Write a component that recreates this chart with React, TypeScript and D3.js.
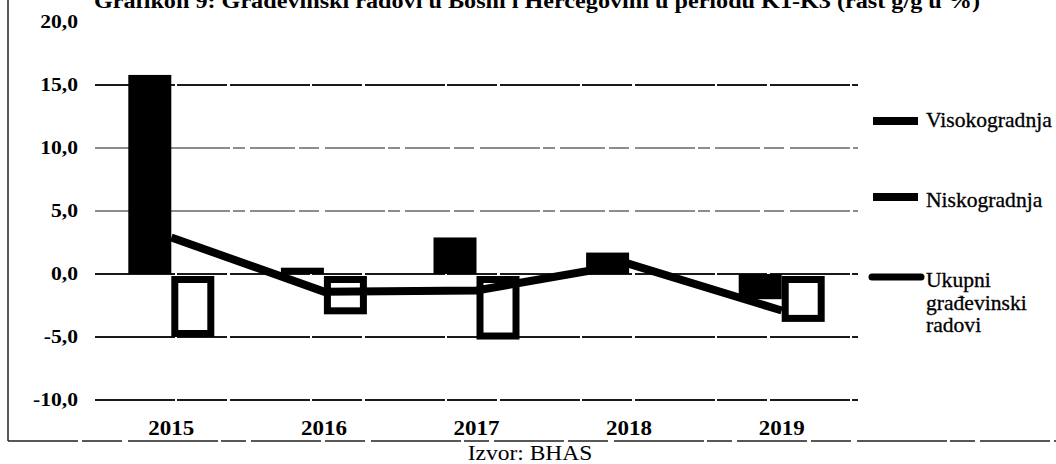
import React from 'react';
import * as d3 from 'd3';

const years = ['2015', '2016', '2017', '2018', '2019'];
const visokogradnja = [15.8, 0.5, 2.9, 1.7, -2.0];
const niskogradnja = [-5.0, -3.2, -5.2, 0.0, -3.8];
const ukupni = [2.9, -1.4, -1.3, 0.8, -2.9];
const yTicks = [20, 15, 10, 5, 0, -5, -10];
const seriesKeys = ['v', 'n'];
const legendViso = 'Visokogradnja';
const legendNisko = 'Niskogradnja';
const legendUkupni = ['Ukupni', 'građevinski', 'radovi'];
const title = 'Grafikon 9: Građevinski radovi u Bosni i Hercegovini u periodu K1-K3 (rast g/g u %)';
const source = 'Izvor: BHAS';

const FONT = '"Liberation Serif", "Times New Roman", serif';

function SText({ x, y, sx = 1.15, anchor = 'start', size = 18, weight = 'normal', heavy = 0, children }: any) {
  return (
    <g transform={`translate(${x},${y})`}>
      <text
        transform={`scale(${sx},1)`}
        textAnchor={anchor}
        fontFamily={FONT}
        fontSize={size}
        fontWeight={weight}
        fill="#000"
        stroke={heavy ? '#000' : 'none'}
        strokeWidth={heavy}
      >
        {children}
      </text>
    </g>
  );
}

export default function App() {
  const W = 1056;
  const H = 464;
  const x = d3.scaleBand<string>().domain(years).range([95, 858]).padding(0);
  const sub = d3
    .scaleBand<string>()
    .domain(seriesKeys)
    .range([0, x.bandwidth()])
    .paddingInner(0)
    .paddingOuter(0.7745);
  const y = d3.scaleLinear().domain([-10, 20]).range([400, 22]);
  const bw = sub.bandwidth();
  const sw = 7;

  const line = d3
    .line<number>()
    .x((_, i) => (x(years[i]) as number) + x.bandwidth() / 2)
    .y((d) => y(d));

  const fmt = (v: number) => d3.format('.1f')(v).replace('.', ',').replace('\u2212', '-');

  return (
    <svg
      width={W}
      height={H}
      style={{ position: 'absolute', left: 0, top: 0, background: '#fff' }}
    >
      <rect x={0} y={0} width={W} height={H} fill="#fff" />
      {/* title (cut at top) */}
      <text
        x={94}
        y={8}
        textLength={886}
        lengthAdjust="spacingAndGlyphs"
        fontFamily={FONT}
        fontSize={20}
        fontWeight="bold"
      >
        {title}
      </text>

      {/* frame */}
      <line x1={8} x2={8} y1={0} y2={441} stroke="#222" strokeWidth={1.5} />
      <line x1={8} x2={W} y1={441} y2={441} stroke="#222" strokeWidth={1.5} strokeDasharray="70 4 40 6 90 3 25 5" />

      {/* gridlines */}
      {yTicks.filter((t) => t !== 20).map((t) => (
        <line
          key={t}
          x1={95}
          x2={858}
          y1={y(t)}
          y2={y(t)}
          stroke="#1a1a1a"
          strokeWidth={t === 10 || t === 5 ? 1.2 : 1.8}
          strokeDasharray={t === 10 || t === 5 ? '45 4 20 6 60 3 12 5' : '80 2 50 3'}
        />
      ))}

      {/* y labels */}
      {yTicks.map((t) => (
        <SText key={t} x={78} y={y(t) + 6} anchor="end" size={18} weight="bold" sx={1.2}>
          {fmt(t)}
        </SText>
      ))}

      {/* Visokogradnja bars */}
      {visokogradnja.map((v, i) => (
        <rect
          key={'v' + i}
          x={(x(years[i]) as number) + (sub('v') as number)}
          y={Math.min(y(v), y(0))}
          width={bw}
          height={Math.abs(y(v) - y(0))}
          fill="#000"
        />
      ))}

      {/* Niskogradnja bars (outlined) */}
      {niskogradnja.map((v, i) => {
        if (Math.abs(v) < 0.05) return null;
        const top = Math.min(y(v), y(0) + 2);
        const bot = Math.max(y(v), y(0) + 2);
        return (
          <rect
            key={'n' + i}
            x={(x(years[i]) as number) + (sub('n') as number) + sw / 2}
            y={top + sw / 2}
            width={bw - sw}
            height={bot - top - sw}
            fill="#fff"
            stroke="#000"
            strokeWidth={sw}
          />
        );
      })}

      {/* Ukupni line */}
      <path d={line(ukupni) as string} fill="none" stroke="#000" strokeWidth={8} strokeLinejoin="miter" />

      {/* x labels */}
      {years.map((yr) => (
        <SText key={yr} x={(x(yr) as number) + x.bandwidth() / 2} y={435} anchor="middle" size={20} weight="bold" sx={1.15}>
          {yr}
        </SText>
      ))}

      {/* legend */}
      <rect x={873} y={117} width={45} height={8} fill="#000" />
      <SText x={926} y={127} size={20} sx={1.08} heavy={0.3}>{legendViso}</SText>
      <rect x={873} y={193} width={45} height={8} fill="#000" />
      <SText x={926} y={207} size={20} sx={1.08} heavy={0.3}>{legendNisko}</SText>
      <line x1={872} x2={921} y1={277} y2={277} stroke="#000" strokeWidth={7} strokeLinecap="round" />
      {legendUkupni.map((s, i) => (
        <SText key={s} x={926} y={287 + i * 22.5} size={20} sx={1.08} heavy={0.3}>{s}</SText>
      ))}

      {/* source */}
      <SText x={530} y={460} anchor="middle" size={21} sx={1.12}>{source}</SText>
    </svg>
  );
}
